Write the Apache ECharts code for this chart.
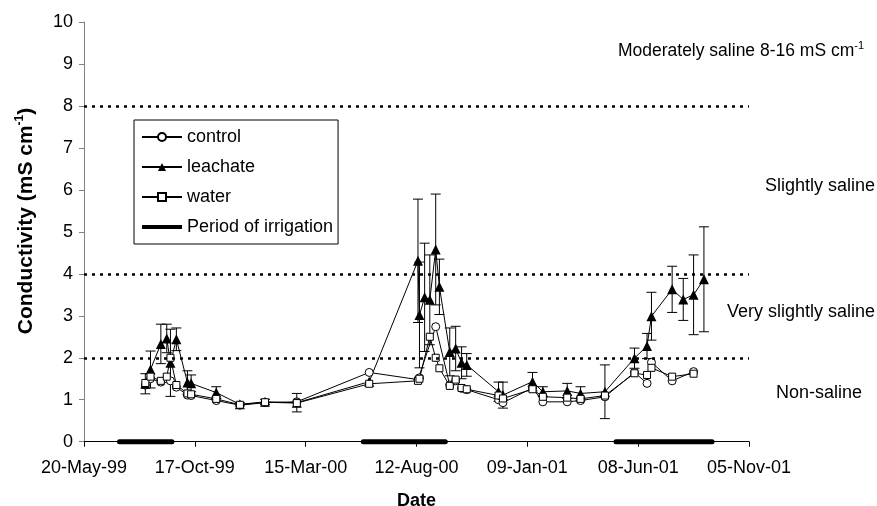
<!DOCTYPE html>
<html><head><meta charset="utf-8">
<script src="https://cdn.jsdelivr.net/npm/echarts@6/dist/echarts.min.js"></script>
<style>html,body{margin:0;padding:0;background:#fff}#c{width:877px;height:506px}</style>
</head><body><div id="c"></div>
<script>
// ---- data ----
const axisStart = '1999-05-20';
const tickLabels = ['20-May-99','17-Oct-99','15-Mar-00','12-Aug-00','09-Jan-01','08-Jun-01','05-Nov-01'];
const sampleDates = [
  '1999-08-11','1999-08-18','1999-09-01','1999-09-09','1999-09-14','1999-09-22','1999-10-07','1999-10-12',
  '1999-11-15','1999-12-17','2000-01-20','2000-03-03',
  '2000-06-09','2000-08-14','2000-08-16','2000-08-23','2000-08-30','2000-09-07','2000-09-12','2000-09-26',
  '2000-10-04','2000-10-12','2000-10-19',
  '2000-12-01','2000-12-07','2001-01-16','2001-01-30','2001-03-04','2001-03-22','2001-04-24',
  '2001-06-03','2001-06-20','2001-06-26','2001-07-24','2001-08-08','2001-08-22','2001-09-05'
];
const control = [1.35,1.50,1.42,1.50,1.45,1.30,1.11,1.10,0.98,0.87,0.93,0.95,
  1.65,1.48,1.52,null,null,2.74,null,1.35,1.45,1.27,1.24,
  1.00,0.93,1.28,0.95,0.95,0.98,1.07,
  1.65,1.39,1.89,1.45,null,1.67,null];
const leachate = [1.38,1.72,2.33,2.46,1.88,2.44,1.41,1.39,1.17,0.89,0.95,0.93,
  1.43,4.31,3.02,3.44,3.38,4.58,3.69,2.14,2.22,1.88,1.83,
  1.19,1.11,1.43,1.19,1.21,1.15,1.19,
  1.99,2.28,2.99,3.63,3.39,3.50,3.87];
const water = [1.40,1.55,1.45,1.55,2.00,1.35,1.15,1.13,1.02,0.88,0.94,0.92,
  1.38,1.45,1.50,null,2.50,2.00,1.75,1.33,1.48,1.28,1.25,
  1.10,1.03,1.25,1.07,1.05,1.02,1.10,
  1.63,1.59,1.76,1.55,null,1.62,null];
const leachateError = [0.24,0.44,0.47,0.34,0.80,0.27,0.28,0.20,0.14,0.04,0.06,0.22,
  null,1.47,1.26,1.29,1.07,1.32,0.66,0.57,0.53,0.38,0.27,
  0.23,0.31,0.22,0.12,0.18,0.16,0.64,
  0.24,0.30,0.57,0.55,0.50,0.95,1.25];
const irrigationStart = ['1999-07-07','2000-06-01','2001-05-09'];
const irrigationEnd   = ['1999-09-16','2000-09-20','2001-09-16'];
const salinityLimits = [2, 4, 8];
const salinityClasses = ['Moderately saline 8-16 mS cm', 'Slightly saline', 'Very slightly saline', 'Non-saline'];

// ---- build ----
const FONT = 'Liberation Sans, Arial, sans-serif';
function toDay(s){const p=s.split('-').map(Number);const b=axisStart.split('-').map(Number);
  return (Date.UTC(p[0],p[1]-1,p[2])-Date.UTC(b[0],b[1]-1,b[2]))/86400000;}
const xs = sampleDates.map(toDay);
const pts = v => xs.map((x,i)=>[x, v[i]==null?'-':v[i]]);
const errData = [];
xs.forEach((x,i)=>{ if(leachateError[i]!=null) errData.push([x, leachate[i]-leachateError[i], leachate[i]+leachateError[i]]); });
const irrData = [];
irrigationStart.forEach((s,i)=>{ irrData.push([toDay(s),0],[toDay(irrigationEnd[i]),0]); if(i<irrigationStart.length-1) irrData.push(['-','-']); });

const chart = echarts.init(document.getElementById('c'), null, {renderer:'canvas'});
const lineBase = {type:'line', connectNulls:true, lineStyle:{color:'#000', width:1}, z:3, animation:false};
chart.setOption({
  animation:false,
  backgroundColor:'#fff',
  textStyle:{fontFamily:FONT},
  grid:{left:84, right:128, top:22, bottom:64.3, containLabel:false, outerBoundsMode:'none'},
  xAxis:{type:'value', min:0, max:900, interval:150,
    name:'Date', nameLocation:'middle', nameGap:50,
    nameTextStyle:{fontSize:18, fontWeight:'bold', color:'#000', fontFamily:FONT},
    axisLine:{lineStyle:{color:'#000', width:1}},
    axisTick:{show:true, length:5, lineStyle:{color:'#000'}},
    axisLabel:{fontSize:18, color:'#000', margin:17, fontFamily:FONT, formatter:v=>tickLabels[Math.round(v/150)]},
    splitLine:{show:false}},
  yAxis:{type:'value', min:0, max:10, interval:1,
    axisLine:{show:true, lineStyle:{color:'#808080', width:1}},
    axisTick:{show:true, length:5, lineStyle:{color:'#808080'}},
    axisLabel:{fontSize:18, color:'#000', margin:11, fontFamily:FONT},
    splitLine:{show:false}},
  legend:{orient:'vertical', left:134, top:120, padding:[8,5,8,7], itemWidth:40, itemHeight:10, itemGap:12,
    borderColor:'#000', borderWidth:1, backgroundColor:'#fff',
    textStyle:{fontSize:18, color:'#000', fontFamily:FONT},
    data:[{name:'control'},{name:'leachate'},{name:'water'},
      {name:'Period of irrigation', icon:'path://M0,0M40,10M0,3L40,3L40,7L0,7Z', itemStyle:{color:'#000'}}]},
  series:[
    {type:'custom', name:'err', z:2, silent:true, animation:false, encode:{x:0, y:[1,2]}, data:errData,
      renderItem:(params, api)=>{
        const x=api.value(0), lo=api.coord([x, api.value(1)]), hi=api.coord([x, api.value(2)]), w=5;
        const st={stroke:'#000', lineWidth:1};
        return {type:'group', children:[
          {type:'line', shape:{x1:lo[0],y1:lo[1],x2:hi[0],y2:hi[1]}, style:st},
          {type:'line', shape:{x1:lo[0]-w,y1:lo[1],x2:lo[0]+w,y2:lo[1]}, style:st},
          {type:'line', shape:{x1:hi[0]-w,y1:hi[1],x2:hi[0]+w,y2:hi[1]}, style:st}]};
      }},
    Object.assign({}, lineBase, {name:'control', data:pts(control), symbol:'circle', symbolSize:8,
      itemStyle:{color:'#fff', borderColor:'#000', borderWidth:1},
      markLine:{silent:true, symbol:['none','none'], label:{show:false},
        lineStyle:{color:'#000', width:2.5, type:[3,5]},
        data:salinityLimits.map(v=>({yAxis:v}))}}),
    Object.assign({}, lineBase, {name:'leachate', data:pts(leachate), symbol:'triangle', symbolSize:10,
      itemStyle:{color:'#000', borderColor:'#000', borderWidth:0}}),
    Object.assign({}, lineBase, {name:'water', data:pts(water), symbol:'rect', symbolSize:7,
      itemStyle:{color:'#fff', borderColor:'#000', borderWidth:1}}),
    {type:'line', name:'Period of irrigation', data:irrData, showSymbol:false, symbol:'none', clip:false,
      connectNulls:false, lineStyle:{color:'#000', width:5, cap:'round'}, itemStyle:{color:'#000'}, z:5, animation:false}
  ],
  graphic:[
    {type:'text', x:26, y:221, rotation:Math.PI/2, z:10,
      style:{text:'{b|Conductivity (mS cm}{s|-1}{b|)}', align:'center', verticalAlign:'middle',
        rich:{b:{fontSize:21, fontWeight:'bold', fontFamily:FONT, fill:'#000', lineHeight:24},
              s:{fontSize:12, fontWeight:'bold', fontFamily:FONT, fill:'#000', verticalAlign:'top', lineHeight:24}}}},
    {type:'text', x:741, y:51, z:10,
      style:{text:'{n|'+salinityClasses[0]+'}{s|-1}', align:'center', verticalAlign:'middle',
        rich:{n:{fontSize:17.5, fontFamily:FONT, fill:'#000', lineHeight:22},
              s:{fontSize:11, fontFamily:FONT, fill:'#000', verticalAlign:'top', lineHeight:22}}}},
    {type:'text', x:820, y:186, z:10, style:{text:salinityClasses[1], fontSize:18, fontFamily:FONT, fill:'#000', align:'center', verticalAlign:'middle'}},
    {type:'text', x:875, y:312, z:10, style:{text:salinityClasses[2], fontSize:18, fontFamily:FONT, fill:'#000', align:'right', verticalAlign:'middle'}},
    {type:'text', x:819, y:393, z:10, style:{text:salinityClasses[3], fontSize:18, fontFamily:FONT, fill:'#000', align:'center', verticalAlign:'middle'}}
  ]
});
</script></body></html>
